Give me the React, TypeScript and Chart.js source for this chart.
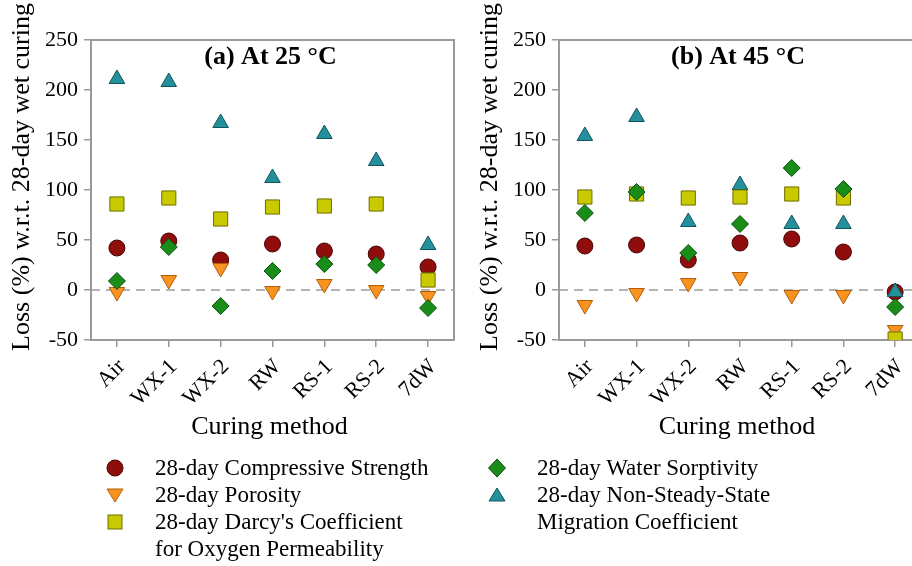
import React, { useEffect, useRef } from 'react';
import { Chart, registerables } from 'chart.js';

Chart.register(...registerables);

// ---------- data ----------
const categories = ['Air', 'WX-1', 'WX-2', 'RW', 'RS-1', 'RS-2', '7dW'];
const yTicks = [-50, 0, 50, 100, 150, 200, 250];

// (a) At 25 °C
const compressive25 = [42, 49, 30, 46, 39, 36, 23];
const porosity25 = [-2, 10, 22, -1, 6, 0, -6];
const darcy25 = [86, 92, 71, 83, 84, 86, 10];
const sorptivity25 = [9, 43, -16, 19, 26, 25, -18];
const migration25 = [211, 208, 167, 112, 156, 129, 45];

// (b) At 45 °C
const compressive45 = [44, 45, 30, 47, 51, 38, -2];
const porosity45 = [-15, -3, 7, 13, -5, -5, -40];
const darcy45 = [93, 96, 92, 93, 96, 92, -49];
const sorptivity45 = [77, 98, 37, 66, 122, 101, -17];
const migration45 = [154, 173, 68, 105, 66, 66, -2];

const seriesLabels = [
  '28-day Compressive Strength',
  '28-day Porosity',
  "28-day Darcy's Coefficient for Oxygen Permeability",
  '28-day Water Sorptivity',
  '28-day Non-Steady-State Migration Coefficient',
];

const SERIF = '"Liberation Serif", "Times New Roman", Times, serif';

const markerStyles = [
  { pointStyle: 'circle', radius: 8, rotation: 0, bg: '#8f0d0d', border: '#4a0606', order: 5 },
  { pointStyle: 'triangle', radius: 9, rotation: 180, bg: '#f7931e', border: '#b25f0c', order: 3 },
  { pointStyle: 'rect', radius: 10, rotation: 0, bg: '#c9c900', border: '#6e6e00', order: 2 },
  { pointStyle: 'rectRot', radius: 8.5, rotation: 0, bg: '#1a8c1a', border: '#0b4f0b', order: 1 },
  { pointStyle: 'triangle', radius: 9, rotation: 0, bg: '#23909c', border: '#12545c', order: 4 },
];

const AXIS = '#9a9a9a';

type PanelProps = {
  title: string;
  series: number[][];
  left: number;
  width: number;
  yWidth: number;
  padRight: number;
};

function Panel({ title, series, left, width, yWidth, padRight }: PanelProps) {
  const ref = useRef<HTMLCanvasElement | null>(null);

  useEffect(() => {
    if (!ref.current) return;
    const decor = {
      id: 'decor',
      beforeDatasetsDraw(chart: any) {
        const { ctx, chartArea } = chart;
        const y = chart.scales.y;
        ctx.save();
        // zero dashed line
        const y0 = y.getPixelForValue(0);
        ctx.strokeStyle = '#b4b4b4';
        ctx.lineWidth = 2;
        ctx.setLineDash([9, 6]);
        ctx.beginPath();
        ctx.moveTo(chartArea.left, y0);
        ctx.lineTo(chartArea.right, y0);
        ctx.stroke();
        ctx.setLineDash([]);
        // box
        ctx.strokeStyle = AXIS;
        ctx.lineWidth = 2;
        ctx.strokeRect(chartArea.left, chartArea.top, chartArea.right - chartArea.left, chartArea.bottom - chartArea.top);
        ctx.restore();
      },
      afterDraw(chart: any) {
        const { ctx, chartArea } = chart;
        const cx = (chartArea.left + chartArea.right) / 2;
        ctx.save();
        ctx.fillStyle = '#000';
        ctx.textAlign = 'center';
        ctx.textBaseline = 'middle';
        ctx.font = `bold 26px ${SERIF}`;
        ctx.fillText(title, cx - 2, 57);
        ctx.font = `26px ${SERIF}`;
        ctx.fillText('Curing method', cx - 3, 427);
        ctx.translate(chartArea.left - 69, 177);
        ctx.rotate(-Math.PI / 2);
        ctx.fillText('Loss (%) w.r.t. 28-day wet curing', 0, 0);
        ctx.restore();
      },
    };

    const chart = new Chart(ref.current, {
      type: 'line',
      data: {
        labels: categories,
        datasets: series.map((d, i) => ({
          label: seriesLabels[i],
          data: d,
          showLine: false,
          pointStyle: markerStyles[i].pointStyle as any,
          pointRadius: markerStyles[i].radius,
          pointRotation: markerStyles[i].rotation,
          pointBackgroundColor: markerStyles[i].bg,
          pointBorderColor: markerStyles[i].border,
          pointBorderWidth: 1,
          order: markerStyles[i].order,
        })),
      },
      options: {
        animation: false,
        responsive: false,
        maintainAspectRatio: false,
        events: [],
        layout: { padding: { top: 40, right: padRight, left: 0, bottom: 0 } },
        plugins: { legend: { display: false }, tooltip: { enabled: false } },
        scales: {
          x: {
            type: 'category',
            offset: true,
            grid: {
              display: true,
              drawOnChartArea: false,
              drawTicks: true,
              tickLength: 7,
              color: AXIS,
              lineWidth: 1.5,
              offset: false,
            },
            border: { display: false },
            ticks: {
              autoSkip: false,
              minRotation: 45,
              maxRotation: 45,
              color: '#000',
              padding: 7,
              labelOffset: 5,
              font: { family: SERIF, size: 22 },
            },
            afterFit: (s: any) => {
              s.height = 226;
            },
          },
          y: {
            min: -50,
            max: 250,
            afterBuildTicks: (s: any) => {
              s.ticks = yTicks.map((v) => ({ value: v }));
            },
            grid: {
              display: true,
              drawOnChartArea: false,
              drawTicks: true,
              tickLength: 7,
              color: AXIS,
              lineWidth: 1.5,
            },
            border: { display: false },
            ticks: {
              color: '#000',
              padding: 6,
              font: { family: SERIF, size: 22 },
            },
            afterFit: (s: any) => {
              s.width = yWidth;
            },
          },
        },
      },
      plugins: [decor],
    } as any);
    return () => chart.destroy();
  }, []);

  return (
    <canvas
      ref={ref}
      width={width}
      height={566}
      style={{ position: 'absolute', left, top: 0, width, height: 566 }}
    />
  );
}

function Marker({ i }: { i: number }) {
  const m = markerStyles[i];
  let shape: any = null;
  if (i === 0) shape = <circle cx={10} cy={10} r={8} fill={m.bg} stroke={m.border} />;
  if (i === 1) shape = <polygon points="2,4 18,4 10,17" fill={m.bg} stroke={m.border} />;
  if (i === 2) shape = <rect x={3} y={3} width={14} height={14} fill={m.bg} stroke={m.border} />;
  if (i === 3) shape = <polygon points="10,1 18.5,10 10,19 1.5,10" fill={m.bg} stroke={m.border} />;
  if (i === 4) shape = <polygon points="10,3 18,16 2,16" fill={m.bg} stroke={m.border} />;
  return (
    <svg width={20} height={20} style={{ position: 'absolute', left: -10, top: -10 }}>
      {shape}
    </svg>
  );
}

const legendRows = [
  { i: 0, mx: 115, my: 468, tx: 155, lines: ['28-day Compressive Strength'] },
  { i: 1, mx: 115, my: 495, tx: 155, lines: ['28-day Porosity'] },
  { i: 2, mx: 115, my: 522, tx: 155, lines: ["28-day Darcy's Coefficient", 'for Oxygen Permeability'] },
  { i: 3, mx: 497, my: 468, tx: 537, lines: ['28-day Water Sorptivity'] },
  { i: 4, mx: 497, my: 495, tx: 537, lines: ['28-day Non-Steady-State', 'Migration Coefficient'] },
];

export default function App() {
  return (
    <div
      style={{
        position: 'fixed',
        left: 0,
        top: 0,
        width: 912,
        height: 566,
        overflow: 'hidden',
        background: '#fff',
      }}
    >
      <Panel
        title="(a) At 25 °C"
        series={[compressive25, porosity25, darcy25, sorptivity25, migration25]}
        left={0}
        width={470}
        yWidth={91}
        padRight={16}
      />
      <Panel
        title="(b) At 45 °C"
        series={[compressive45, porosity45, darcy45, sorptivity45, migration45]}
        left={460}
        width={500}
        yWidth={99}
        padRight={39}
      />
      {legendRows.map((r) => (
        <React.Fragment key={r.i}>
          <div style={{ position: 'absolute', left: r.mx, top: r.my }}>
            <Marker i={r.i} />
          </div>
          {r.lines.map((t, k) => (
            <div
              key={k}
              style={{
                position: 'absolute',
                left: r.tx,
                top: r.my - 14 + k * 27,
                height: 28,
                lineHeight: '28px',
                fontFamily: SERIF,
                fontSize: 23,
                color: '#000',
                whiteSpace: 'nowrap',
              }}
            >
              {t}
            </div>
          ))}
        </React.Fragment>
      ))}
    </div>
  );
}
